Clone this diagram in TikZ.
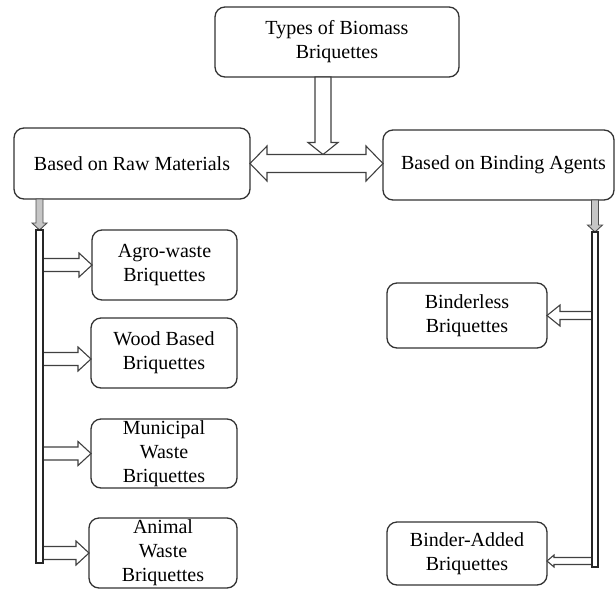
\documentclass[tikz,border=0pt]{standalone}
\usepackage{fontspec}
\setmainfont{Liberation Serif}
\usetikzlibrary{calc}
\tikzset{
 boxnode/.style={draw=black!80, line width=1.3pt, rounded corners=10pt, fill=white, align=center,
   inner sep=0pt, outer sep=0pt, font=\fontsize{20}{24}\selectfont},
 barnode/.style={draw=black!85, line width=1.2pt, fill=white, inner sep=0pt, outer sep=0pt},
 harr/.style={draw=black!75, line width=1.1pt, fill=white, line join=miter},
 sarr/.style={draw=black!70, line width=0.9pt, fill=gray!45, line join=miter},
}
% horizontal hollow arrow: style, start, tip, shaft half, head half, signed head length
\newcommand{\hollowH}[6]{%
 \draw[#1] let \p1=(#2), \p2=(#3) in
  ({\x1},{\y2+#4}) -- ({\x2-(#6)},{\y2+#4}) -- ({\x2-(#6)},{\y2+#5}) -- ({\x2},{\y2})
  -- ({\x2-(#6)},{\y2-#5}) -- ({\x2-(#6)},{\y2-#4}) -- ({\x1},{\y2-#4}) -- cycle;}
% vertical hollow arrow: style, start, tip, shaft half, head half, signed head length (canvas y)
\newcommand{\hollowV}[6]{%
 \draw[#1] let \p1=(#2), \p2=(#3) in
  ({\x2+#4},{\y1}) -- ({\x2+#4},{\y2-(#6)}) -- ({\x2+#5},{\y2-(#6)}) -- ({\x2},{\y2})
  -- ({\x2-#5},{\y2-(#6)}) -- ({\x2-#4},{\y2-(#6)}) -- ({\x2-#4},{\y1}) -- cycle;}
\begin{document}
\begin{tikzpicture}[x=1pt,y=-1pt]
\useasboundingbox (0,0) rectangle (616,590);
\clip (0,0) rectangle (616,590);

% boxes
\node[boxnode, minimum width=244pt, minimum height=70pt] (top) at (337,42) {Types of Biomass\\Briquettes};
\node[boxnode, minimum width=236pt, minimum height=71pt] (raw) at (132,163.5) {Based on Raw Materials};
\node[boxnode, minimum width=231pt, minimum height=70pt] (bind) at (498.5,165) {\hspace*{10pt}Based on Binding Agents};

\node[boxnode, minimum width=145pt, minimum height=70pt] (agro) at (164.5,265) {Agro-waste\\Briquettes};
\node[boxnode, minimum width=146pt, minimum height=70pt] (wood) at (164,353) {Wood Based\\Briquettes};
\node[boxnode, minimum width=146pt, minimum height=69pt] (muni) at (164,453.5) {Municipal\\Waste\\Briquettes};
\node[boxnode, minimum width=148pt, minimum height=70pt] (anim) at (163,553) {Animal\\Waste\\Briquettes};

\node[boxnode, minimum width=160pt, minimum height=65pt] (bless) at (467,315.5) {Binderless\\Briquettes};
\node[boxnode, minimum width=160pt, minimum height=63pt] (badd) at (467,553.5) {Binder-Added\\Briquettes};

% bar tops
\coordinate (barLn) at (39.5,230);
\coordinate (barRn) at (595,232);

% top vertical arrow
\coordinate (vtip) at (323,154.5);
\hollowV{harr}{top.south}{vtip}{8pt}{15pt}{-12pt}

% double horizontal arrow
\draw[harr] let \p1=(raw.east), \p2=(bind.west) in
  ({\x1},{\y1}) -- ({\x1+17pt},{\y1+17.5pt}) -- ({\x1+17pt},{\y1+9pt}) -- ({\x2-17pt},{\y1+9pt})
  -- ({\x2-17pt},{\y1+17.5pt}) -- ({\x2},{\y1}) -- ({\x2-17pt},{\y1-17.5pt}) -- ({\x2-17pt},{\y1-9pt})
  -- ({\x1+17pt},{\y1-9pt}) -- ({\x1+17pt},{\y1-17.5pt}) -- cycle;

% small arrows down to bars
\hollowV{sarr}{raw.south}{barLn}{3.5pt}{7.5pt}{-7pt}
\hollowV{sarr}{bind.south}{barRn}{3.5pt}{7.5pt}{-7pt}

% bars
\node[barnode, minimum width=7pt, minimum height=333pt] (barL) at (39.5,396.5) {};
\node[barnode, minimum width=6pt, minimum height=335pt] (barR) at (595,399.5) {};

% branch arrows, left
\coordinate (wy) at (0,359);
\coordinate (tw) at (wood.west |- wy);
\hollowH{harr}{barL.east}{agro.west}{6.5pt}{12pt}{13pt}
\hollowH{harr}{barL.east}{tw}{6.5pt}{12pt}{13pt}
\hollowH{harr}{barL.east}{muni.west}{6.5pt}{12pt}{13pt}
\hollowH{harr}{barL.east}{anim.west}{6.5pt}{12pt}{13pt}

% branch arrows, right
\coordinate (by) at (0,561);
\coordinate (tba) at (badd.east |- by);
\hollowH{harr}{barR.west}{bless.east}{4pt}{10.5pt}{-13pt}
\hollowH{harr}{barR.west}{tba}{3.5pt}{6pt}{-7pt}

% redraw bars on top to hide arrow back edges
\draw[barnode] (barL.south west) rectangle (barL.north east);
\draw[barnode] (barR.south west) rectangle (barR.north east);
\end{tikzpicture}
\end{document}
